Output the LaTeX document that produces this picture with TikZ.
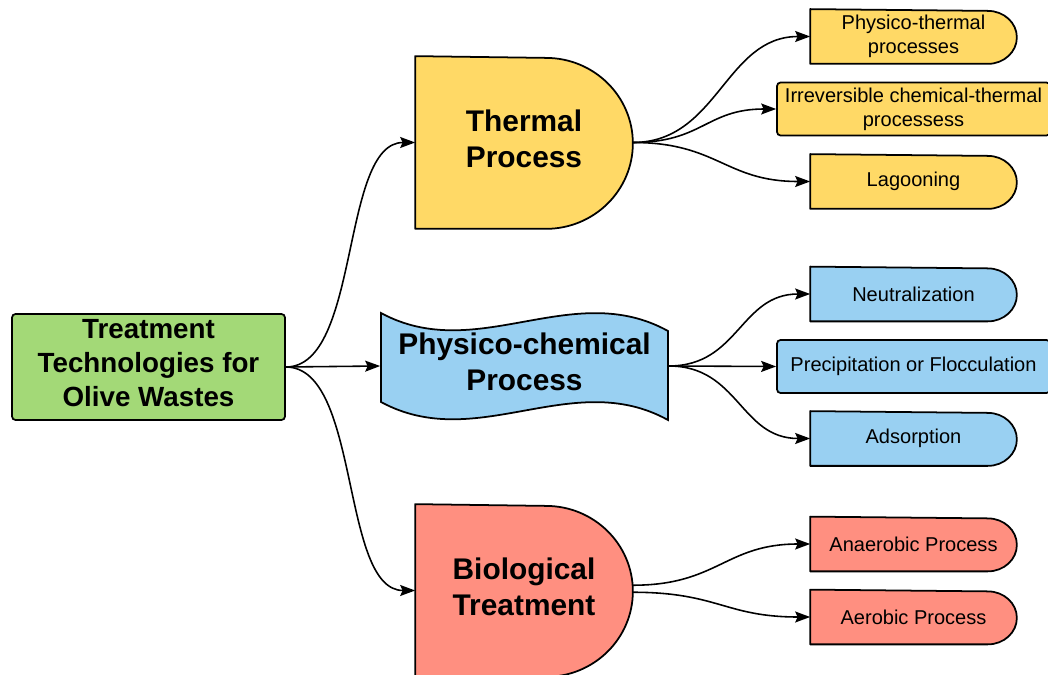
\documentclass[tikz,border=0pt]{standalone}
\usepackage{fontspec}
\setmainfont{Liberation Sans}
\usetikzlibrary{arrows.meta,backgrounds}

\definecolor{rootgreen}{RGB}{163,217,119}
\definecolor{thermyellow}{RGB}{255,217,102}
\definecolor{physblue}{RGB}{153,208,242}
\definecolor{biored}{RGB}{255,143,128}

% D outline round a node: name, fill, x radius, y radius
\newcommand{\dpath}[4]{%
	\draw[fill=#2, line width=1pt, line join=round] (#1.south west) -- ([xshift=-#3]#1.south east)
		arc[start angle=-90, end angle=90, x radius=#3, y radius=#4]
		-- (#1.north west) -- cycle;}

\begin{document}
\begin{tikzpicture}[> = {Stealth[length=3mm,width=2.2mm,inset=0.5mm]}, % arrow head style
	x=0.02cm, y=-0.02cm, % pixel grid, y going down
	line width=1pt, % line style
	every node/.style={align=center, inner sep=2pt},
	bigtext/.style={font=\fontsize{17}{20.4}\selectfont\bfseries, text depth=4.8pt},
	smalltext/.style={font=\fontsize{11.4}{13.6}\selectfont},
	bigd/.style={minimum width=4.32cm, minimum height=3.42cm, bigtext},
	dbox/.style={minimum width=4.1cm, minimum height=1.06cm, smalltext},
	wbox/.style={draw, rounded corners=2pt, minimum width=5.46cm, minimum height=1.06cm, smalltext},
	link/.style={->, line width=0.9pt}]
	\useasboundingbox (0,0) rectangle (1048,675);

	% main topic
	\node[draw, fill=rootgreen, rounded corners=2pt, minimum width=5.46cm, minimum height=2.12cm,
		font=\fontsize{15.8}{19.3}\selectfont\bfseries, text depth=4.5pt] (root) at (148.5,367) {Treatment\\Technologies for\\Olive Wastes};

	% the three branches
	\node[bigd] (thermal) at (524,142.5) {Thermal\\Process};
	\node[bigtext, minimum width=5.74cm, minimum height=1.8cm] (phys) at (524.5,366) {Physico-chemical\\Process};
	\node[bigd] (bio) at (524,590.5) {Biological\\Treatment};

	% leaves
	\node[dbox] (pt) at (913.5,36.5) {Physico-thermal\\processes};
	\node[wbox, fill=thermyellow] (ict) at (913.5,109) {Irreversible chemical-thermal\\processess};
	\node[dbox] (lag) at (913.5,181.5) {Lagooning};
	\node[dbox] (neu) at (913.5,294) {Neutralization};
	\node[wbox, fill=physblue] (prec) at (913.5,366.5) {Precipitation or Flocculation};
	\node[dbox] (ads) at (913.5,438.5) {Adsorption};
	\node[dbox] (ana) at (913.5,544) {Anaerobic Process};
	\node[dbox] (aer) at (913.5,617) {Aerobic Process};

	\begin{scope}[on background layer]
		\dpath{thermal}{thermyellow}{1.74cm}{1.71cm}
		\dpath{bio}{biored}{1.74cm}{1.71cm}
		\foreach \n/\c in {pt/thermyellow, lag/thermyellow, neu/physblue, ads/physblue, ana/biored, aer/biored}
			{\dpath{\n}{\c}{0.58cm}{0.53cm}}
		\begin{scope}[shift={(phys.center)}]
			\draw[fill=physblue, line width=1pt] (-143.5,-53) .. controls (-47.5,-1) and (47.5,-88) .. (143.5,-35)
				-- (143.5,54) .. controls (47.5,1) and (-47.5,88) .. (-143.5,36) -- cycle;
		\end{scope}
	\end{scope}

	\draw[link] (root.east) .. controls +(75,0) and +(-75,0) .. (thermal.west);
	\draw[link] (root.east) -- (phys.west);
	\draw[link] (root.east) .. controls +(75,0) and +(-75,0) .. (bio.west);

	\draw[link] (thermal.east) .. controls +(85,0) and +(-85,0) .. (pt.west);
	\draw[link] (thermal.east) .. controls +(70,0) and +(-70,0) .. (ict.west);
	\draw[link] (thermal.east) .. controls +(85,0) and +(-85,0) .. (lag.west);

	\draw[link] (phys.east) .. controls +(70,0) and +(-70,0) .. (neu.west);
	\draw[link] (phys.east) -- (prec.west);
	\draw[link] (phys.east) .. controls +(70,0) and +(-70,0) .. (ads.west);

	\draw[link] ([yshift=3pt]bio.east) .. controls +(85,0) and +(-85,0) .. (ana.west);
	\draw[link] ([yshift=-1pt]bio.east) .. controls +(85,0) and +(-85,0) .. (aer.west);
\end{tikzpicture}
\end{document}
